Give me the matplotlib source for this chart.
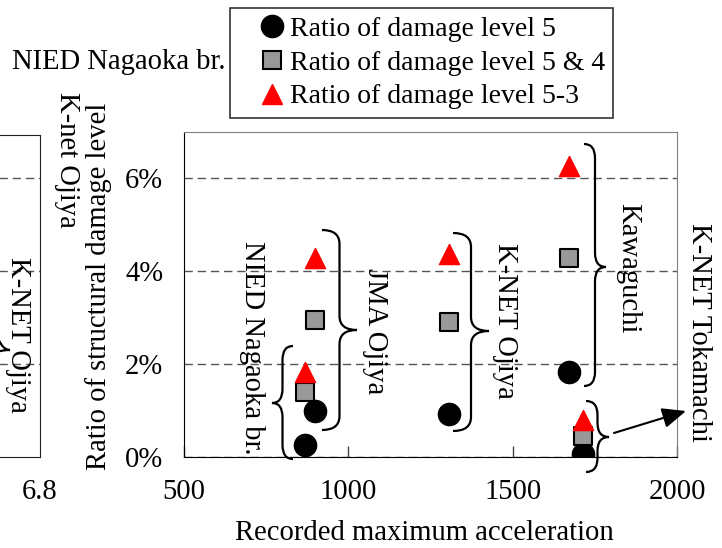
import matplotlib.pyplot as plt
from matplotlib.path import Path
from matplotlib.patches import PathPatch
from matplotlib.lines import Line2D
from matplotlib.ticker import PercentFormatter
from matplotlib.transforms import Affine2D

plt.rcParams['font.family'] = ['Liberation Serif', 'DejaVu Serif']
plt.rcParams['font.size'] = 20.6

# stations and readings (percent of buildings)
stations = ['NIED Nagaoka br.', 'JMA Ojiya', 'K-NET Ojiya', 'Kawaguchi', 'K-NET Tokamachi']
pga = [868, 899, 1306, 1671, 1714]
level5 = [0.26, 0.98, 0.92, 1.84, 0.06]
level54 = [1.41, 2.95, 2.91, 4.28, 0.45]
level53 = [1.82, 4.28, 4.37, 6.27, 0.80]
labels = ['Ratio of damage level 5', 'Ratio of damage level 5 & 4', 'Ratio of damage level 5-3']

W, H = 722, 548
fig = plt.figure(figsize=(W / 100, H / 100), dpi=100)
# pixel coordinates measured from the top left corner
px = Affine2D().scale(1 / W, -1 / H).translate(0, 1) + fig.transFigure

grid_kw = dict(color='#555555', linestyle=(0, (6, 3.5)), linewidth=1.0)

# piece of the neighbouring panel on the left
ax0 = fig.add_axes([-0.3, 0.1661, 0.3554, 0.5875])
ax0.set_xlim(5.0, 6.8)
ax0.set_ylim(0, 6.92)
ax0.set_xticks([6.8], ['6.8'])
ax0.set_yticks([2, 4, 6], [])
ax0.tick_params(axis='x', direction='in', length=0, pad=16)
ax0.tick_params(axis='y', length=0)
ax0.yaxis.grid(True, **grid_kw)
for s in ax0.spines.values():
    s.set_color('#222222')

# main panel
ax = fig.add_axes([0.2548, 0.1661, 0.6829, 0.5930])
ax.scatter(pga, level5, marker='o', s=16 ** 2, color='black', zorder=3, label=labels[0])
ax.scatter(pga, level54, marker='s', s=12.5 ** 2, facecolor='#999999', edgecolor='black',
           linewidth=1.5, zorder=3, label=labels[1])
ax.scatter(pga, level53, marker='^', s=14.5 ** 2, color='red', zorder=4, label=labels[2])

ax.set_xlim(500, 2000)
ax.set_ylim(0, 7)
ax.set_xticks([500, 1000, 1500, 2000])
ax.set_yticks([0, 2, 4, 6])
ax.yaxis.set_major_formatter(PercentFormatter(decimals=0))
ax.tick_params(direction='in', length=8, width=1, color='#444444')
ax.tick_params(axis='x', pad=16)
ax.tick_params(axis='y', pad=15, length=0)
ax.yaxis.grid(True, **grid_kw)
ax.set_axisbelow(True)
ax.spines['left'].set_color('black')
ax.spines['bottom'].set_color('black')
ax.spines['top'].set_color('#808080')
ax.spines['right'].set_color('#808080')

ax.set_xlabel('Recorded maximum acceleration')
ax.xaxis.set_label_coords(0.487, -0.195)
ax.set_ylabel('Ratio of structural damage level')
ax.yaxis.set_label_coords(-0.146, 0.526)


def brace(x_end, x_tip, y_top, y_bot, y_tip, r=14):
    xm = (x_end + x_tip) / 2
    verts = [(x_end, y_top), (xm, y_top), (xm, y_top + r), (xm, y_tip - r),
             (xm, y_tip), (x_tip, y_tip), (xm, y_tip), (xm, y_tip + r),
             (xm, y_bot - r), (xm, y_bot), (x_end, y_bot)]
    codes = [Path.MOVETO, Path.CURVE3, Path.CURVE3, Path.LINETO, Path.CURVE3, Path.CURVE3,
             Path.CURVE3, Path.CURVE3, Path.LINETO, Path.CURVE3, Path.CURVE3]
    fig.add_artist(PathPatch(Path(verts, codes), transform=px, fill=False,
                             lw=1.6, edgecolor='black'))


# braces grouping the three ratios of each station
brace(293, 272, 346, 459, 403)
brace(322, 357, 230, 430, 330)
brace(453, 489, 233, 431, 331)
brace(584, 606, 144, 386, 267)
brace(586, 609, 401, 472, 437)
brace(-30, 10, 250, 450, 350, r=12)

# station names
fig.text(252, 348, stations[0], transform=px, rotation=270, ha='center', va='center')
fig.text(375, 331, stations[1], transform=px, rotation=270, ha='center', va='center')
fig.text(505, 321, stations[2], transform=px, rotation=270, ha='center', va='center')
fig.text(628, 268, stations[3], transform=px, rotation=270, ha='center', va='center')
fig.text(699, 332, stations[4], transform=px, rotation=270, ha='center', va='center')
ax.annotate('', xy=(686, 411), xytext=(614, 433), xycoords=px, textcoords=px,
            arrowprops=dict(arrowstyle='-|>,head_length=0.7,head_width=0.3',
                            color='black', lw=1.5, shrinkA=0, shrinkB=0))

# texts left over from the neighbouring panel
fig.text(18, 335, 'K-NET Ojiya', transform=px, rotation=270, ha='center', va='center')
fig.text(67, 160, 'K-net Ojiya', transform=px, rotation=270, ha='center', va='center')
fig.text(12, 62, 'NIED Nagaoka br.', transform=px, ha='left', va='center')

handles = [
    Line2D([], [], linestyle='none', marker='o', markersize=16, color='black'),
    Line2D([], [], linestyle='none', marker='s', markersize=12.5, markerfacecolor='#999999',
           markeredgecolor='black', markeredgewidth=1.5),
    Line2D([], [], linestyle='none', marker='^', markersize=14.5, color='red'),
]
leg = fig.legend(handles, labels, loc='upper left', bbox_to_anchor=(230 / W, 1 - 8 / H),
                 frameon=True, fancybox=False, framealpha=1, edgecolor='#333333',
                 borderaxespad=0, borderpad=0.3, labelspacing=0.3, handlelength=2.4,
                 handletextpad=-0.55, fontsize=20)
leg.get_frame().set_linewidth(1.2)

fig.savefig('out.png', dpi=100)
